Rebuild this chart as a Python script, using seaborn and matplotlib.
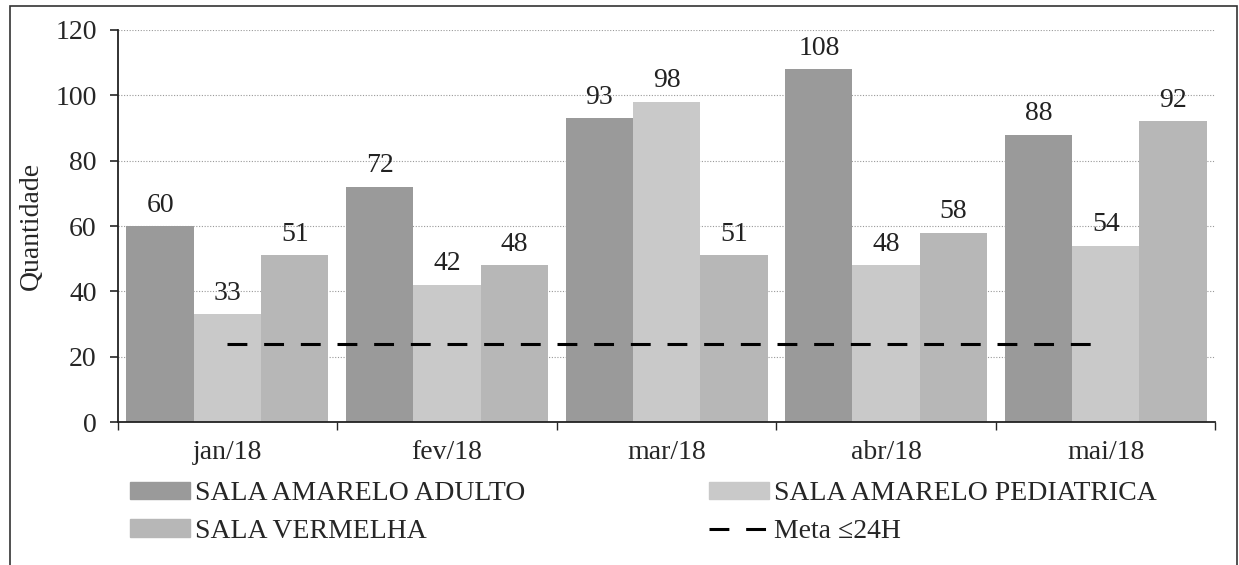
import pandas as pd
import numpy as np
import matplotlib.pyplot as plt
import matplotlib.patches as mpatches
import matplotlib.lines as mlines
import seaborn as sns

# Data
months = ['jan/18', 'fev/18', 'mar/18', 'abr/18', 'mai/18']
adulto = [60, 72, 93, 108, 88]
pediatrica = [33, 42, 98, 48, 54]
vermelha = [51, 48, 51, 58, 92]
meta = [24, 24, 24, 24, 24]

series_names = ['SALA AMARELO ADULTO', 'SALA AMARELO PEDIATRICA', 'SALA VERMELHA']
colors = ['#9a9a9a', '#c9c9c9', '#b7b7b7']

df = pd.DataFrame({
    'Mes': months * 3,
    'Sala': [series_names[0]] * 5 + [series_names[1]] * 5 + [series_names[2]] * 5,
    'Quantidade': adulto + pediatrica + vermelha,
})

sns.set_theme(style="white")
plt.rcParams['font.family'] = ['Liberation Serif', 'DejaVu Serif']
fs = 20

fig = plt.figure(figsize=(12.39, 5.65), dpi=100)
ax = fig.add_axes([0.095, 0.253, 0.886, 0.694])

sns.barplot(data=df, x='Mes', y='Quantidade', hue='Sala', order=months,
            hue_order=series_names, palette=colors, width=0.92, gap=0,
            saturation=1, linewidth=0, legend=False, ax=ax)

dash = (0, (6.5, 5.5))
sns.lineplot(x=months, y=meta, color='black', linewidth=2.2, dashes=False,
             linestyle=dash, ax=ax)

# value labels
for cont in ax.containers:
    ax.bar_label(cont, padding=6, fontsize=fs, color='#222222')

ax.set_ylim(0, 120)
ax.set_xlim(-0.5, 4.5)
ax.set_yticks(np.arange(0, 121, 20))
ax.yaxis.grid(True, linestyle=(0, (1, 1.5)), color='#999999', linewidth=0.8)
ax.set_axisbelow(True)
ax.set_ylabel('Quantidade', fontsize=fs, labelpad=8)
ax.set_xlabel('')

for side in ['top', 'right']:
    ax.spines[side].set_visible(False)
for side in ['left', 'bottom']:
    ax.spines[side].set_color('#222222')
    ax.spines[side].set_linewidth(1.3)

ax.tick_params(axis='y', which='major', direction='out', length=6, width=1.2,
               left=True, pad=9, labelsize=fs)
ax.tick_params(axis='x', which='major', length=0, pad=13, labelsize=fs)
ax.set_xticks(np.arange(-0.5, 5, 1), minor=True)
ax.tick_params(axis='x', which='minor', direction='out', length=6, width=1,
               bottom=True)

# legend below the axes, two columns
h_adulto = mpatches.Patch(color=colors[0], label=series_names[0])
h_pedia = mpatches.Patch(color=colors[1], label=series_names[1])
h_verm = mpatches.Patch(color=colors[2], label=series_names[2])
h_meta = mlines.Line2D([], [], color='black', linewidth=2.2,
                       linestyle=dash, label='Meta ≤24H')
fig.legend(handles=[h_adulto, h_verm, h_pedia, h_meta], ncol=2,
           loc='upper left', bbox_to_anchor=(0.105, 0.148), frameon=False,
           fontsize=fs, handlelength=2.15, handleheight=0.6, handletextpad=0.2,
           columnspacing=6.6, labelspacing=0.45, borderaxespad=0, borderpad=0)

# outer frame of the scanned chart
fig.patches.append(mpatches.Rectangle((0.008, -0.01), 0.99, 1.0,
                                      transform=fig.transFigure, fill=False,
                                      edgecolor='#333333', linewidth=1.2))

fig.savefig('out.png', dpi=100)
